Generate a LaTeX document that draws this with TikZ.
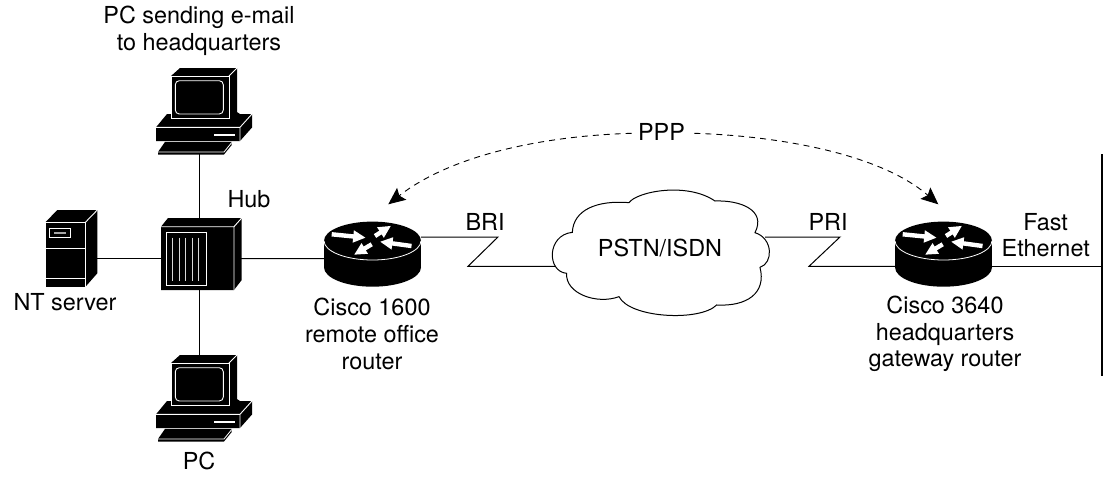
\documentclass[tikz,border=0pt]{standalone}
\usepackage{fontspec}
\setmainfont{TeX Gyre Heros}
\usetikzlibrary{arrows.meta}
\tikzset{
  x=1pt,y=-1pt,
  wire/.style={black,line width=1pt},
  lab/.style={inner sep=0pt,align=center,font=\fontsize{23.4}{26.7}\selectfont},
  hl/.style={white,line width=0.9pt},
  rarrow/.style={white,line width=4.4pt,-{Triangle[length=12.5pt,width=11.5pt]}},
  ppparc/.style={black,line width=0.9pt,dash pattern=on 6pt off 5pt,-{Stealth[length=17pt,width=15pt,inset=3pt]}},
  pics/workstation/.style={code={
    \fill[black] (171,76)--(180,68)--(237,68)--(237,112)--(240,114)--(252,114)--(252,127.5)--(240,141)--(156,141)--(156,127.3)--(167,114)--(171,114)--cycle;
    \draw[hl] (171.5,76)--(229,76)--(229,118.5)--(171.5,118.5)--cycle;
    \draw[hl] (229,76)--(237,68);
    \draw[hl,rounded corners=4pt] (175.3,80.7) rectangle (223.3,114);
    \draw[hl] (156,127.3)--(240,127.3)--(240,141) (240,127.3)--(252,114);
    \draw[white,line width=1.6pt] (214,135)--(235,135);
    \fill[black] (165,141.9)--(231.7,141.9)--(231.7,145)--(224,154.5)--(158,154.5)--(158,152)--cycle;
    \draw[white,line width=0.8pt] (158,152)--(224,152)--(231.7,142.5);
  }},
  pics/router/.style={code={
    \fill[black] (0,26.5) ellipse [x radius=48.5pt,y radius=19.4pt];
    \fill[black] (-48.5,0) rectangle (48.5,26.5);
    \fill[black] (0,0) ellipse [x radius=48.5pt,y radius=19.2pt];
    \draw[white,line width=0.8pt] (-48.5,0) .. controls (-48.5,10.6) and (-26.8,19.2) .. (0,19.2) .. controls (26.8,19.2) and (48.5,10.6) .. (48.5,0);
    \draw[rarrow] (-40.8,-6.5)--(-6.8,-3.1);
    \draw[rarrow] (2.5,-4.8)--(18.5,-15);
    \draw[rarrow] (39,5.2)--(7.5,0.9);
    \draw[rarrow] (-0.8,3.5)--(-18.5,14);
  }}
}
\begin{document}
\begin{tikzpicture}
\useasboundingbox (0,0) rectangle (1105,477);
% ports
\coordinate (pcTop) at (199.3,154);
\coordinate (hubTop) at (199.3,218);
\coordinate (hubBot) at (199.3,290);
\coordinate (pcBot) at (199.3,355);
\coordinate (srvR) at (97.3,258.7);
\coordinate (hubL) at (161,258.7);
\coordinate (hubR) at (241,258.7);
\coordinate (rtAL) at (324,258.5);
\coordinate (rtAR) at (421,237);
\coordinate (bri1) at (498,237);
\coordinate (bri2) at (468,266.3);
\coordinate (cloudL) at (555,266.3);
\coordinate (cloudR) at (765,237);
\coordinate (pri1) at (840,237);
\coordinate (pri2) at (809,266.3);
\coordinate (rtBL) at (895,266.3);
\coordinate (rtBR) at (991,266.5);
\coordinate (feEnd) at (1101,266.5);
\coordinate (busTop) at (1102,154);
\coordinate (busBot) at (1102,376);
\coordinate (tipL) at (388.3,204.3);
\coordinate (tipR) at (938.3,204.3);
% connectors
\draw[wire] (pcTop)--(hubTop);
\draw[wire] (hubBot)--(pcBot);
\draw[wire] (srvR)--(hubL);
\draw[wire] (hubR)--(rtAL);
\draw[wire] (rtAR)--(bri1)--(bri2)--(cloudL);
\draw[wire] (cloudR)--(pri1)--(pri2)--(rtBL);
\draw[wire] (rtBR)--(feEnd);
\draw[black,line width=1.3pt] (busTop)--(busBot);
% PCs
\pic at (0,0) {workstation};
\pic at (0,287) {workstation};
% server
\fill[black] (45,222.7)--(57.3,210)--(97.3,210)--(97.3,273.3)--(85,287.3)--(45,287.3)--cycle;
\draw[hl] (45.4,222.7)--(85,222.7)--(85,287)--(45.4,287)--cycle;
\draw[hl] (85,222.7)--(97.3,210);
\draw[hl] (45,248.3)--(85,248.3) (45,278)--(85,278);
\draw[hl] (49.3,228.3) rectangle (70.7,237.3);
\fill[black!35] (54.3,231.7) rectangle (65.7,234);
% hub
\fill[black] (161,226.7)--(168,218)--(241.7,218)--(241.7,280)--(234,290)--(161,290)--cycle;
\draw[hl] (161,226.7)--(234,226.7)--(241.7,218) (234,226.7)--(234,290);
\draw[hl] (166,232) rectangle (206.7,285.7);
\foreach \hx in {172.7,179.3,185.7,192,198.7}{\draw[black!15!white,line width=0.9pt] (\hx,237.7)--(\hx,280.7);}
% routers
\pic at (372.5,240.8) {router};
\pic at (943.5,240.8) {router};
% cloud
\path[draw=black,fill=white,line width=1pt,shift={(540,180)},x=0.3333pt,y=-0.3333pt]
  (97,157) .. controls (100,90) and (170,60) .. (267,68)
  .. controls (290,35) and (440,5) .. (525,63)
  .. controls (600,60) and (680,90) .. (645,158)
  .. controls (700,175) and (700,250) .. (660,262)
  .. controls (680,340) and (620,380) .. (530,375)
  .. controls (480,425) and (270,415) .. (237,350)
  .. controls (170,375) and (75,340) .. (80,280)
  .. controls (20,275) and (20,165) .. (97,157) -- cycle;
% labels
\node[lab] (lpc1) at (199,31) {PC sending e-mail\\to headquarters};
\node[lab] (lhub) at (249,199) {Hub};
\node[lab] (lsrv) at (65,302) {NT server};
\node[lab] (lrtA) at (372,334) {Cisco 1600\\remote office\\router};
\node[lab] (lbri) at (485,222) {BRI};
\node[lab] (lcloud) at (660,248) {PSTN/ISDN};
\node[lab] (lpri) at (828,222) {PRI};
\node[lab] (lppp) at (661.5,132) {PPP};
\node[lab] (lrtB) at (945,334) {Cisco 3640\\headquarters\\gateway router};
\node[lab] (lfe) at (1045.7,235) {Fast\\Ethernet};
\node[lab] (lpc2) at (199,461) {PC};
% PPP arcs
\coordinate (pppL) at (631.7,133.3);
\coordinate (pppR) at (694.3,133.3);
\draw[ppparc] (pppL) .. controls (540,136) and (450,156) .. (tipL);
\draw[ppparc] (pppR) .. controls (780,136) and (880,154) .. (tipR);
\end{tikzpicture}
\end{document}
